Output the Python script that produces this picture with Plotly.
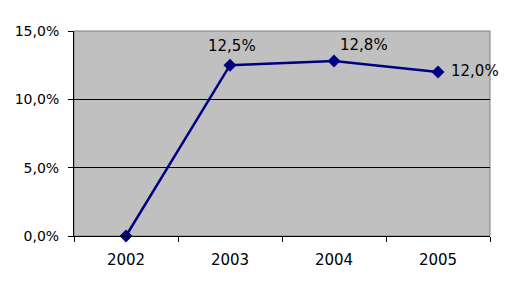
import plotly.graph_objects as go

years = ["2002", "2003", "2004", "2005"]
values = [0.0, 0.125, 0.128, 0.120]
labels = ["", "12,5%", "12,8%", "12,0%"]
y_ticks = [0.0, 0.05, 0.10, 0.15]

fig = go.Figure()
fig.add_trace(go.Scatter(
    x=years, y=values, mode="lines+markers",
    line=dict(color="#000080", width=2.5),
    marker=dict(symbol="diamond", size=10, color="#000080"),
    cliponaxis=False, showlegend=False, hoverinfo="skip",
))

label_style = {
    "12,5%": dict(xanchor="center", yanchor="middle", xshift=2, yshift=19),
    "12,8%": dict(xanchor="left", yanchor="middle", xshift=4, yshift=16),
    "12,0%": dict(xanchor="left", yanchor="middle", xshift=11, yshift=1),
}
for i, (v, lab) in enumerate(zip(values, labels)):
    if lab:
        fig.add_annotation(x=i, y=v, xref="x", yref="y", text=lab, showarrow=False,
                           font=dict(family="DejaVu Sans", size=15, color="black"),
                           **label_style[lab])

fig.add_shape(type="rect", xref="paper", yref="paper", x0=0, x1=1, y0=0, y1=1,
              line=dict(color="#808080", width=1), layer="below")

fig.update_layout(
    width=506, height=290,
    margin=dict(l=74, r=16, t=31, b=54),
    paper_bgcolor="white", plot_bgcolor="#C0C0C0",
    separators=",.",
    font=dict(family="DejaVu Sans", size=13, color="black"),
    xaxis=dict(type="category", range=[-0.5, 3.5], tickson="boundaries",
               ticks="outside", ticklen=5, tickcolor="black",
               tickfont=dict(size=15), ticklabelstandoff=10,
               showline=True, linecolor="black", linewidth=1,
               showgrid=False, zeroline=False, fixedrange=True),
    yaxis=dict(range=[0, 0.15], tickvals=y_ticks, tickformat=".1%",
               ticks="outside", ticklen=5, tickcolor="black",
               tickfont=dict(size=14), ticklabelstandoff=6,
               showline=True, linecolor="black", linewidth=1,
               showgrid=True, gridcolor="black", gridwidth=1,
               zeroline=False, fixedrange=True),
)

fig.write_html("out.html", config={"displayModeBar": False})
